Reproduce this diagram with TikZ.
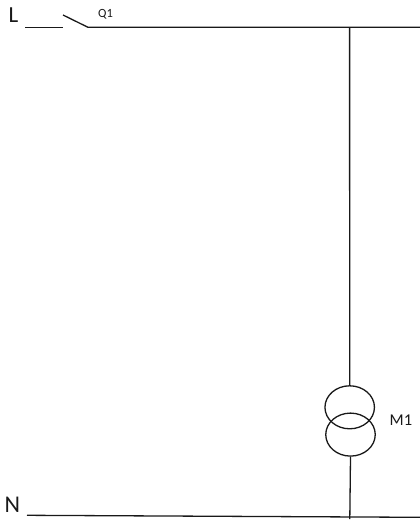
\documentclass[tikz,border=0pt]{standalone}
\usepackage{fontspec}
\setmainfont{Carlito}
\usetikzlibrary{shapes.geometric}
\tikzset{
  wire/.style={draw=black!90,line width=1.3pt},
  coil/.style={ellipse,draw=black!90,line width=1.3pt,inner sep=0pt,minimum width=49.5pt,minimum height=43pt},
  lab/.style={inner sep=0pt,text=black!90,anchor=base west}
}
\begin{document}
\begin{tikzpicture}[x=1pt,y=-1pt]
\useasboundingbox (0,0) rectangle (420,522);
\node[lab,font=\fontsize{23}{23}\selectfont] (L) at (8.5,22) {L};
\node[lab,font=\fontsize{12.5}{12.5}\selectfont] (Q) at (98,17) {Q1};
\node[lab,font=\fontsize{16.5}{16.5}\selectfont] (M) at (389.5,425) {M1};
\node[lab,font=\fontsize{24}{24}\selectfont] (N) at (4.5,512) {N};
\node[coil] (c1) at (349.7,407.3) {};
\node[coil] (c2) at (350.5,434.6) {};
\coordinate (La) at (25,27.3);
\coordinate (Lb) at (63,27.3);
\coordinate (Sa) at (63,15);
\coordinate (Sb) at (88,27.3);
\coordinate (Le) at (420,27.3);
\coordinate (T) at (349.6,27.3);
\coordinate (Na) at (27,515.3);
\coordinate (Ne) at (420,517.3);
\coordinate (B) at (349.8,519);
\draw[wire] (La) -- (Lb);
\draw[wire] (Sa) -- (Sb) -- (Le);
\draw[wire] (T) -- (c1.north);
\draw[wire] (c2.south) -- (B);
\draw[wire] (Na) -- (Ne);
\end{tikzpicture}
\end{document}
